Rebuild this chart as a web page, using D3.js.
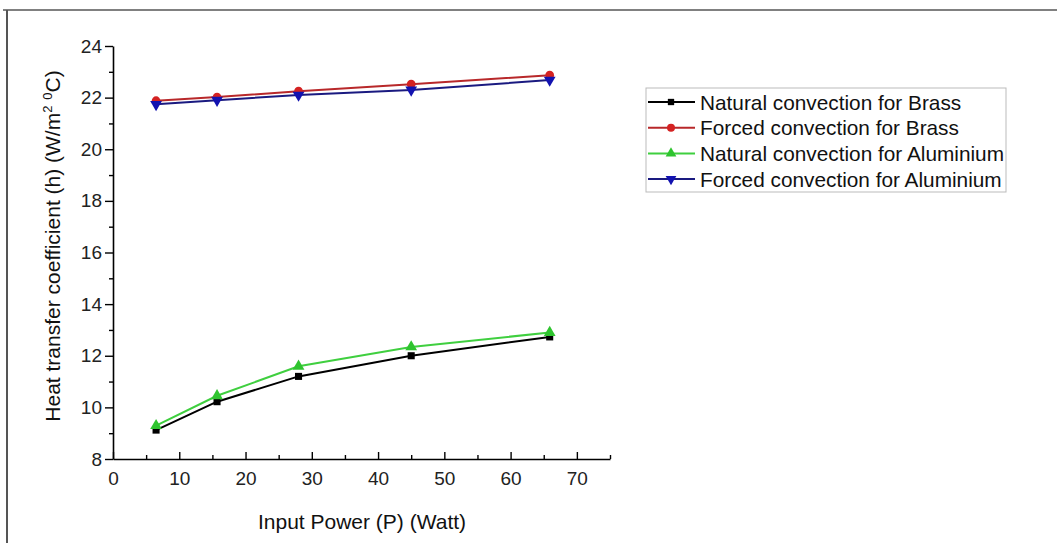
<!DOCTYPE html>
<html>
<head>
<meta charset="utf-8">
<script src="https://cdn.jsdelivr.net/npm/d3@7"></script>
<style>
  body { margin: 0; background: #fff; }
  svg { display: block; font-family: "Liberation Sans", Arial, sans-serif; }
</style>
</head>
<body>
<svg id="chart" width="1057" height="543"></svg>
<script>
// input power (W)
const power = [6.5, 15.7, 28, 45, 65.9];
const naturalBrass = [9.12, 10.22, 11.2, 12.0, 12.73];
const forcedBrass = [21.88, 22.02, 22.25, 22.52, 22.87];
const naturalAlu = [9.29, 10.45, 11.59, 12.34, 12.9];
const forcedAlu = [21.74, 21.9, 22.1, 22.3, 22.68];
const xTicks = [0, 10, 20, 30, 40, 50, 60, 70];
const yTicks = [8, 10, 12, 14, 16, 18, 20, 22, 24];

const seriesList = [
  { name: "Natural convection for Brass", values: naturalBrass, line: "#000", fill: "#000", shape: d3.symbolSquare, size: 50, rot: 0 },
  { name: "Forced convection for Brass", values: forcedBrass, line: "#b8282a", fill: "#d42222", shape: d3.symbolCircle, size: 60, rot: 0 },
  { name: "Natural convection for Aluminium", values: naturalAlu, line: "#3fcf3f", fill: "#2fc42f", shape: d3.symbolTriangle, size: 60, rot: 0 },
  { name: "Forced convection for Aluminium", values: forcedAlu, line: "#1a1a80", fill: "#1212b0", shape: d3.symbolTriangle, size: 60, rot: 180 }
];

let svg = d3.select("#chart");

// frame lines of the original figure
svg.append("line").attr("x1", 3).attr("x2", 1057).attr("y1", 10).attr("y2", 10)
  .attr("stroke", "#808080").attr("stroke-width", 2);
svg.append("line").attr("x1", 7).attr("x2", 7).attr("y1", 10).attr("y2", 543)
  .attr("stroke", "#555").attr("stroke-width", 2);

let x = d3.scaleLinear().domain([0, 75]).range([113, 610]);
let y = d3.scaleLinear().domain([8, 24]).range([459, 46]);

// y axis: ticks point outward
let yAxis = svg.append("g").attr("transform", "translate(113,0)")
  .call(d3.axisLeft(y).tickValues(yTicks).tickSize(8).tickSizeOuter(0).tickPadding(3));
yAxis.append("g").call(d3.axisLeft(y).tickValues(d3.range(9, 24, 2)).tickSize(4).tickFormat(""))
  .select(".domain").remove();

// x axis: ticks point inward
let xAxis = svg.append("g").attr("transform", "translate(0,459)")
  .call(d3.axisBottom(x).tickValues(xTicks).tickSize(-7).tickSizeOuter(0).tickPadding(13));
xAxis.append("g").call(d3.axisBottom(x).tickValues(d3.range(5, 80, 10)).tickSize(-4).tickFormat(""))
  .select(".domain").remove();

svg.selectAll(".domain").attr("stroke", "#000").attr("stroke-width", 1.6);
svg.selectAll(".tick line").attr("stroke", "#000").attr("stroke-width", 1.4);
svg.selectAll(".tick text").style("font-size", "19px").style("fill", "#222")
  .style("font-family", "Liberation Sans, Arial, sans-serif");

// axis titles
svg.append("text").attr("x", 362).attr("y", 529).attr("text-anchor", "middle")
  .style("font-size", "21px").attr("fill", "#111").text("Input Power (P) (Watt)");

let yt = svg.append("text").attr("transform", "translate(60,246) rotate(-90)")
  .attr("text-anchor", "middle").style("font-size", "21px").attr("fill", "#111");
yt.append("tspan").text("Heat transfer coefficient (h) (W/m");
yt.append("tspan").attr("dy", -8).style("font-size", "13px").text("2");
yt.append("tspan").attr("dy", 8).text(" ");
yt.append("tspan").attr("dy", -8).style("font-size", "13px").text("0");
yt.append("tspan").attr("dy", 8).text("C)");

// series
let line = d3.line().x((d, i) => x(power[i])).y(d => y(d));

seriesList.forEach(s => {
  svg.append("path").datum(s.values).attr("d", line)
    .attr("fill", "none").attr("stroke", s.line).attr("stroke-width", 2);
  svg.selectAll(null).data(s.values).enter().append("path")
    .attr("d", d3.symbol().type(s.shape).size(s.size))
    .attr("transform", (d, i) => "translate(" + x(power[i]) + "," + y(d) + ") rotate(" + s.rot + ")")
    .attr("fill", s.fill);
});

// legend
let legend = svg.append("g").attr("transform", "translate(646,88)");
legend.append("rect").attr("width", 360).attr("height", 104)
  .attr("fill", "#fff").attr("stroke", "#bbb").attr("stroke-width", 1);
seriesList.forEach((s, i) => {
  let row = legend.append("g").attr("transform", "translate(0," + (14 + i * 25.7) + ")");
  row.append("line").attr("x1", 2).attr("x2", 49).attr("stroke", s.line).attr("stroke-width", 2);
  row.append("path").attr("d", d3.symbol().type(s.shape).size(s.size - 10))
    .attr("transform", "translate(25,0) rotate(" + s.rot + ")").attr("fill", s.fill);
  row.append("text").attr("x", 54).attr("y", 7.5).style("font-size", "20.8px").attr("fill", "#111").text(s.name);
});
</script>
</body>
</html>
